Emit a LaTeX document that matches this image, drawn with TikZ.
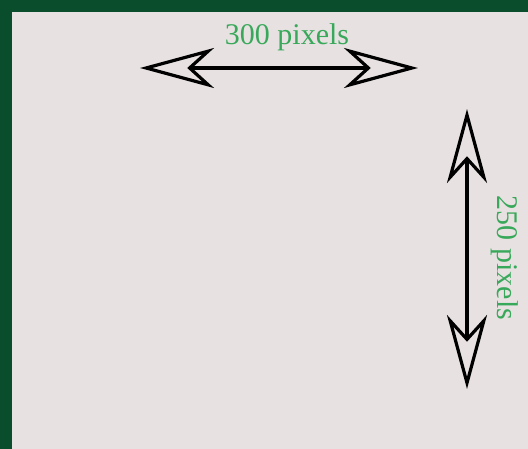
\documentclass[tikz,border=0pt]{standalone}
\usepackage{fontspec}
\setmainfont{Liberation Serif}
\usetikzlibrary{arrows.meta}
\definecolor{bgc}{HTML}{E8E1E1}
\definecolor{framec}{HTML}{0A4D2D}
\definecolor{labc}{HTML}{38A85A}
\tikzset{
  dimarrow/.style={line width=4pt, black, {Stealth[open, length=74pt, width=40pt, inset=22pt, line width=3.2pt]}-{Stealth[open, length=74pt, width=40pt, inset=22pt, line width=3.2pt]}},
  dimlabel/.style={text=labc, font=\fontsize{30}{32}\selectfont, inner sep=0pt, anchor=base}
}
\begin{document}
\begin{tikzpicture}[x=1pt,y=-1pt]
\useasboundingbox (0,0) rectangle (528,449);
\fill[bgc] (0,0) rectangle (528,449);
\fill[framec] (0,0) rectangle (528,12);
\fill[framec] (0,0) rectangle (12,449);
\coordinate (hl) at (140,68);
\coordinate (hr) at (418,68);
\coordinate (vt) at (467,109);
\coordinate (vb) at (467,389);
\draw[dimarrow] (hl) -- (hr);
\draw[dimarrow] (vt) -- (vb);
\node[dimlabel] (hlab) at (287,45) {300 pixels};
\node[dimlabel, rotate=-90] (vlab) at (497,258) {250 pixels};
\end{tikzpicture}
\end{document}
